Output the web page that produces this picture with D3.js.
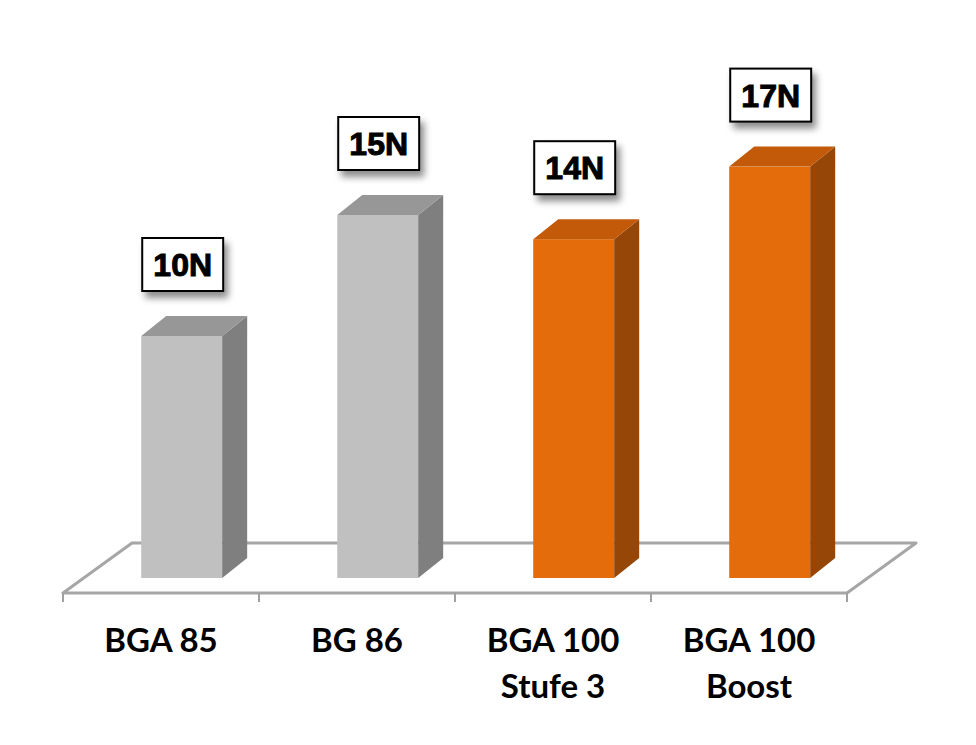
<!DOCTYPE html>
<html>
<head>
<meta charset="utf-8">
<script src="https://cdn.jsdelivr.net/npm/d3@7"></script>
<style>
  body { margin: 0; background: #fff; }
</style>
</head>
<body>
<div id="chart"></div>
<script>
// chart data
const categories = ["BGA 85", "BG 86", "BGA 100\nStufe 3", "BGA 100\nBoost"];
const values = [10, 15, 14, 17];
const valueLabels = ["10N", "15N", "14N", "17N"];
const groups = ["grey", "grey", "orange", "orange"];

const W = 976, H = 745;
const colors = {
  grey: { front: "#c0c0c0", top: "#979797", side: "#7f7f7f" },
  orange: { front: "#e46c0a", top: "#c25a0a", side: "#964606" }
};

// floor geometry (oblique 3d)
const floorFront = 593, floorDepthX = 69, floorDepthY = 50;
const barBase = 578;             // bars stand a bit behind the front edge
const depthFrac = (floorFront - barBase) / floorDepthY;
const barDX = 25, barDY = 20;    // depth of a bar

const svg = d3.select("#chart").append("svg")
  .attr("width", W).attr("height", H);

const defs = svg.append("defs");
const f = defs.append("filter").attr("id", "shadow")
  .attr("x", "-20%").attr("y", "-20%").attr("width", "150%").attr("height", "160%");
f.append("feDropShadow").attr("dx", 4).attr("dy", 6).attr("stdDeviation", 3.5)
  .attr("flood-color", "#000").attr("flood-opacity", 0.45);

const x = d3.scaleBand()
  .domain(categories)
  .range([63, 847])
  .paddingInner(0.587)
  .paddingOuter(0.2935);

const y = d3.scaleLinear()
  .domain([0, 20])
  .range([barBase, barBase - 484]);

// floor
const x0 = 63, x1 = 847;
svg.append("path")
  .attr("d", `M${x0},${floorFront} L${x1},${floorFront} L${x1 + floorDepthX},${floorFront - floorDepthY} L${x0 + floorDepthX},${floorFront - floorDepthY} Z`)
  .attr("fill", "#fff")
  .attr("stroke", "#a6a6a6")
  .attr("stroke-width", 3)
  .attr("stroke-linejoin", "round");

// ticks under front edge
const tickX = [x0].concat(categories.map(c => x(c) + x.bandwidth() + x.step() * x.paddingInner() / 2));
tickX[tickX.length - 1] = x1;
svg.append("g").selectAll("line")
  .data(tickX)
  .join("line")
  .attr("x1", d => d).attr("x2", d => d)
  .attr("y1", floorFront).attr("y2", floorFront + 9)
  .attr("stroke", "#a0a0a0")
  .attr("stroke-width", 2);

const shift = depthFrac * floorDepthX;

const bars = svg.append("g").selectAll("g")
  .data(values.map((v, i) => ({ v, i, cat: categories[i], c: colors[groups[i]] })))
  .join("g");

bars.each(function (d) {
  const g = d3.select(this);
  const bx = x(d.cat) + shift;
  const bw = x.bandwidth();
  const top = y(d.v), bot = y(0);
  g.append("rect")
    .attr("x", bx).attr("y", top)
    .attr("width", bw).attr("height", bot - top)
    .attr("fill", d.c.front);
  g.append("path")
    .attr("d", `M${bx + bw},${top} L${bx + bw + barDX},${top - barDY} L${bx + bw + barDX},${bot - barDY} L${bx + bw},${bot} Z`)
    .attr("fill", d.c.side);
  g.append("path")
    .attr("d", `M${bx},${top} L${bx + barDX},${top - barDY} L${bx + bw + barDX},${top - barDY} L${bx + bw},${top} Z`)
    .attr("fill", d.c.top);

  // value label box
  const boxH = 53, gap = 45;
  const by = top - gap - boxH;
  g.append("rect")
    .attr("x", bx + 1).attr("y", by)
    .attr("width", bw).attr("height", boxH)
    .attr("fill", "#fff")
    .attr("stroke", "#000")
    .attr("stroke-width", 2)
    .attr("filter", "url(#shadow)");
  g.append("text")
    .attr("x", bx + 1 + bw / 2)
    .attr("y", by + boxH / 2 + 11.5)
    .attr("text-anchor", "middle")
    .attr("font-family", "'Liberation Sans', Arial, sans-serif")
    .attr("font-weight", "bold")
    .attr("font-size", 32)
    .attr("fill", "#000")
    .attr("stroke", "#000")
    .attr("stroke-width", 1)
    .text(valueLabels[d.i]);
});

// category labels
const labels = svg.append("g").selectAll("text")
  .data(categories)
  .join("text")
  .attr("x", d => x(d) + x.bandwidth() / 2)
  .attr("y", 652)
  .attr("text-anchor", "middle")
  .attr("font-family", "Lato, 'Open Sans', sans-serif")
  .attr("font-weight", "bold")
  .attr("font-size", 33)
  .attr("fill", "#000");

labels.selectAll("tspan")
  .data(d => d.split("\n"))
  .join("tspan")
  .attr("x", function () { return d3.select(this.parentNode).attr("x"); })
  .attr("dy", (d, i) => i === 0 ? 0 : 46)
  .text(d => d);
</script>
</body>
</html>
